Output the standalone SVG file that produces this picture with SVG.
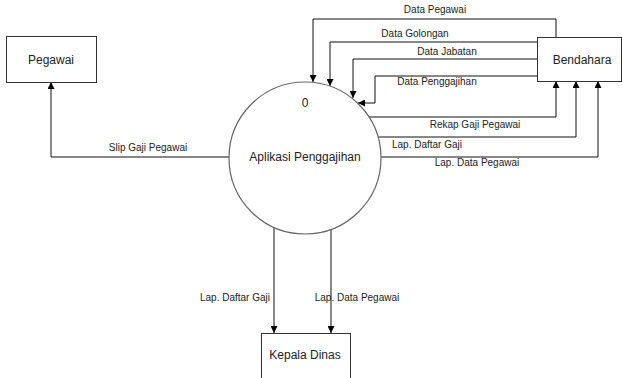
<svg xmlns="http://www.w3.org/2000/svg" width="622" height="378" viewBox="0 0 622 378">
<style>
.box{fill:#fff;stroke:#333;stroke-width:1}
.proc{fill:#fff;stroke:#666;stroke-width:1.2}
.node{font-family:"Liberation Sans",Arial,sans-serif;font-size:12px;fill:#222;text-anchor:middle}
.lbl{font-family:"Liberation Sans",Arial,sans-serif;font-size:10px;fill:#222;text-anchor:middle}
.ln{fill:none;stroke:#111;stroke-width:1;marker-end:url(#ah)}
</style>
<defs>
<marker id="ah" viewBox="0 0 10 10" refX="10" refY="5" markerWidth="7" markerHeight="7" markerUnits="userSpaceOnUse" orient="auto">
<path d="M0,0 L10,5 L0,10 z" fill="#000"/>
</marker>
</defs>
<rect width="622" height="378" fill="#fff"/>
<g id="connectors">
<path class="ln" d="M556,37 V19 H313 V82"/>
<path class="ln" d="M537,42 H330 V86"/>
<path class="ln" d="M537,59 H353 V98"/>
<path class="ln" d="M537,76 H375 V103 H358"/>
<path class="ln" d="M369,117 H556 V81"/>
<path class="ln" d="M378,137 H576 V81"/>
<path class="ln" d="M381,157 H598 V81"/>
<path class="ln" d="M229,157 H51 V82"/>
<path class="ln" d="M274,227 V333"/>
<path class="ln" d="M331,229 V333"/>
<text class="lbl" x="435" y="13">Data Pegawai</text>
<text class="lbl" x="415" y="37">Data Golongan</text>
<text class="lbl" x="447" y="55">Data Jabatan</text>
<text class="lbl" x="437" y="85">Data Penggajihan</text>
<text class="lbl" x="475" y="128">Rekap Gaji Pegawai</text>
<text class="lbl" x="427" y="148">Lap. Daftar Gaji</text>
<text class="lbl" x="477" y="166">Lap. Data Pegawai</text>
<text class="lbl" x="148" y="151">Slip Gaji Pegawai</text>
<text class="lbl" x="235" y="301">Lap. Daftar Gaji</text>
<text class="lbl" x="357" y="301">Lap. Data Pegawai</text>
</g>
<g id="pegawai">
<rect class="box" x="6.5" y="36.5" width="90" height="46"/>
<text class="node" x="51" y="64">Pegawai</text>
</g>
<g id="bendahara">
<rect class="box" x="537.5" y="37.5" width="84" height="44"/>
<text class="node" x="582" y="64">Bendahara</text>
</g>
<g id="aplikasi">
<circle class="proc" cx="305" cy="158" r="76"/>
<text class="node" x="305" y="107">0</text>
<text class="node" x="305" y="161">Aplikasi Penggajihan</text>
</g>
<g id="kepala-dinas">
<rect class="box" x="261.5" y="333.5" width="89" height="50"/>
<text class="node" x="305" y="359">Kepala Dinas</text>
</g>
</svg>
